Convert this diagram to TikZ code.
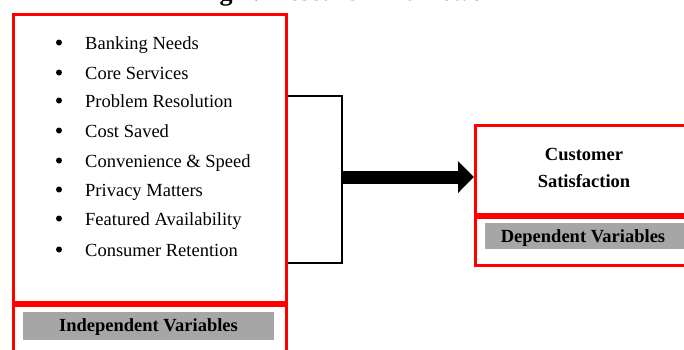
\documentclass[tikz,border=0pt]{standalone}
\usepackage{fontspec}
\setmainfont{Liberation Serif}
\usetikzlibrary{arrows.meta}
\definecolor{boxred}{RGB}{255,0,0}
\definecolor{labgray}{RGB}{166,166,166}
\tikzset{
  redbox/.style={draw=boxred, line width=3pt, inner sep=0pt, anchor=north west},
  graybar/.style={fill=labgray, draw=none, inner sep=0pt, anchor=north west},
  item/.style={anchor=base west, inner sep=0pt, font=\fontsize{18.5}{22}\selectfont},
  dot/.style={circle, fill=black, draw=none, inner sep=0pt, minimum size=6pt},
  boldlab/.style={anchor=base, inner sep=0pt, font=\fontsize{18.5}{22}\selectfont\bfseries},
  bracket/.style={draw=black, line width=2.2pt},
  bigarrow/.style={draw=black, line width=13pt, -{Triangle[length=16pt,width=31pt]}}
}
\begin{document}
\begin{tikzpicture}[x=1pt,y=-1pt]
\clip (0,0) rectangle (684,349);
\fill[white] (0,0) rectangle (684,349);
% title (cut off at top, as in the reference)
\node[anchor=base, inner sep=0pt, font=\fontsize{26}{30}\selectfont\bfseries] (title) at (353,0.5) {Fig 1: Research Framework};
% left boxes
\node[redbox, minimum width=273pt, minimum height=288pt] (iv) at (12,13) {};
\node[redbox, minimum width=273pt, minimum height=80pt] (ivlab) at (12,304) {};
\node[graybar, minimum width=251pt, minimum height=28pt] (ivbar) at (23,312) {};
\node[boldlab] (ivtext) at (148.5,331.5) {Independent Variables};
% items
\foreach \t/\y [count=\i] in {Banking Needs/49, Core Services/79, Problem Resolution/107, Cost Saved/137, Convenience \& Speed/167, Privacy Matters/196, Featured Availability/225, Consumer Retention/256}{
  \node[dot] (b\i) at (59,\y-6.5) {};
  \node[item] (t\i) at (85,\y) {\t};
}
% right boxes
\node[redbox, minimum width=220pt, minimum height=89pt] (dv) at (474,124) {};
\node[redbox, minimum width=220pt, minimum height=48pt] (dvlab) at (474,216) {};
\node[graybar, minimum width=210pt, minimum height=26pt] (dvbar) at (485,223) {};
\node[boldlab] (dvt1) at (584,160) {Customer};
\node[boldlab] (dvt2) at (584,187) {Satisfaction};
\node[boldlab] (dvtext) at (583,242) {Dependent Variables};
% bracket and arrow
\coordinate (top) at (iv.east |- 0,96);
\coordinate (bot) at (iv.east |- 0,263);
\coordinate (tr) at (342,96);
\coordinate (br) at (342,263);
\coordinate (mid) at (341,177);
\draw[bracket] (top) -- (tr) -- (br) -- (bot);
\draw[bigarrow] (mid) -- (dv.west |- mid);
\end{tikzpicture}
\end{document}
